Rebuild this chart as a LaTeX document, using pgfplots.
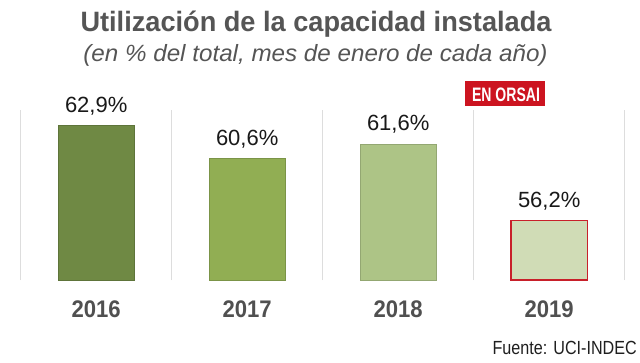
\documentclass[border=0pt]{standalone}
\usepackage{fontspec}
\usepackage{pgfplots}
\pgfplotsset{compat=1.18}
\setmainfont{Liberation Sans}
\newfontfamily\titlefont{Liberation Sans}[FakeStretch=0.97]
\newfontfamily\subfont{Liberation Sans}[FakeStretch=1.03]
\newfontfamily\yearfont{Liberation Sans}[FakeStretch=0.92]
\newfontfamily\fuentefont{Liberation Sans}[FakeStretch=0.85]
\newfontfamily\badgefont{Liberation Sans}[FakeStretch=0.72]
\newfontfamily\valfont{Liberation Sans}[FakeStretch=1.0]
\definecolor{titlegray}{HTML}{555555}
\definecolor{yeargray}{HTML}{505050}
\definecolor{cA}{HTML}{6F8944}
\definecolor{cB}{HTML}{91AE53}
\definecolor{cC}{HTML}{ADC486}
\definecolor{cD}{HTML}{D0DCB6}
\definecolor{redb}{HTML}{C8202A}
\definecolor{badge}{HTML}{CC1420}
\definecolor{gridc}{HTML}{DDDDDD}
\begin{document}
\begin{tikzpicture}
\fill[white] (0pt,0pt) rectangle (640pt,362pt);
\begin{axis}[
  at={(20.7pt,82pt)}, anchor=south west,
  x=151pt, y=14.1667pt,
  xmin=-0.5, xmax=3.5, ymin=52, ymax=64,
  axis line style={draw=none},
  ytick=\empty,
  xtick={0,1,2,3},
  xticklabels={2016,2017,2018,2019},
  major tick length=0pt, minor tick length=0pt,
  minor xtick={-0.5,0.5,1.5,2.5,3.5},
  xminorgrids=true,
  minor x grid style={draw=gridc, line width=0.9pt},
  xticklabel style={font=\yearfont\bfseries\fontsize{24}{28}\selectfont, text=yeargray, anchor=base, yshift=-37pt},
  nodes near coords={\pgfmathprintnumber[use comma,fixed,fixed zerofill,precision=1,assume math mode=true]{\pgfplotspointmeta}\%},
  every node near coord/.append style={font=\valfont\fontsize{22}{26}\selectfont, text=black!90, anchor=base, yshift=13pt},
]
\addplot[ybar, bar width=76.6pt, bar shift=0pt, fill=cA, draw=cA!85!black, line width=0.6pt] coordinates {(0,62.9)};
\addplot[ybar, bar width=76.6pt, bar shift=0pt, fill=cB, draw=cB!85!black, line width=0.6pt] coordinates {(1,60.6)};
\addplot[ybar, bar width=76.6pt, bar shift=0pt, fill=cC, draw=cC!85!black, line width=0.6pt] coordinates {(2,61.6)};
\addplot[ybar, bar width=76.6pt, bar shift=0pt, fill=cD, draw=redb, line width=1.3pt] coordinates {(3,56.2)};
\end{axis}
\node[anchor=base, text=titlegray, font=\titlefont\bfseries\fontsize{28}{32}\selectfont, inner sep=0pt] at (316pt,330pt) {Utilización de la capacidad instalada};
\node[anchor=base, text=titlegray, font=\subfont\itshape\fontsize{23.5}{28}\selectfont, inner sep=0pt] at (315.5pt,300pt) {(en \% del total, mes de enero de cada año)};
\fill[badge] (465pt,256pt) rectangle (545pt,281pt);
\node[anchor=base, text=white, font=\badgefont\bfseries\fontsize{19.5}{22}\selectfont, inner sep=0pt] at (506pt,260pt) {EN ORSAI};
\node[anchor=base east, text=black!88, font=\fuentefont\fontsize{19}{22}\selectfont, inner sep=0pt] at (637pt,8pt) {Fuente: UCI-INDEC};
\pgfresetboundingbox
\useasboundingbox (0pt,0pt) rectangle (640pt,362pt);
\end{tikzpicture}
\end{document}
